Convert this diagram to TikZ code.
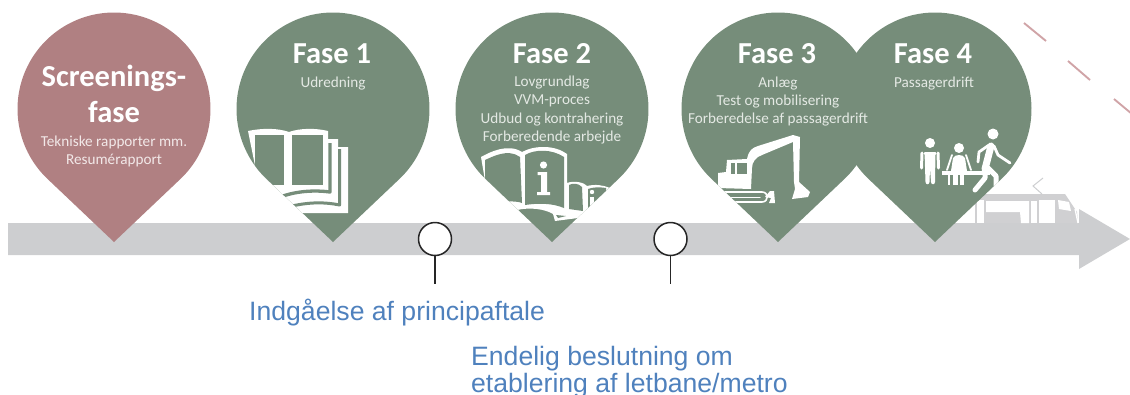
\documentclass[tikz,border=0pt]{standalone}
\usepackage{fontspec}
\setmainfont{Carlito}
\newfontfamily\bluefont{Liberation Sans}
\definecolor{pingreen}{RGB}{118,141,122}
\definecolor{pinrose}{RGB}{176,128,130}
\definecolor{barcol}{RGB}{205,206,208}
\definecolor{bluetxt}{RGB}{79,129,189}
\definecolor{dashcol}{RGB}{208,164,167}
\definecolor{subgreen}{RGB}{228,233,228}
\definecolor{subrose}{RGB}{242,232,232}
\newcommand\pinpath[1]{(#1,242) -- plot[domain=46.5:-226.5,samples=140] ({#1+96.5*cos(\x)},{109+96.5*sin(\x)}) -- cycle}
\tikzset{
 pinhead/.style={font=\fontsize{30.5}{30.5}\bfseries\selectfont,text=white,anchor=base,inner sep=0pt},
 subgr/.style={font=\fontsize{15.2}{16}\selectfont,text=subgreen,anchor=base,inner sep=0pt},
 subro/.style={font=\fontsize{15.2}{16}\selectfont,text=subrose,anchor=base,inner sep=0pt},
 milestone/.style={circle,draw=black!85,fill=white,line width=1.5pt,minimum size=33pt,inner sep=0pt},
 stem/.style={draw=black!85,line width=1.6pt},
 bluelabel/.style={font=\bluefont\fontsize{26.6}{26.6}\selectfont,text=bluetxt,anchor=base west,inner sep=0pt},
 wl/.style={draw=white,line cap=round,line join=round},
 gl/.style={draw=pingreen,line join=round},
}
\begin{document}
\begin{tikzpicture}[x=1pt,y=-1pt]
\useasboundingbox (0,0) rectangle (1130,394);
\clip (0,0) rectangle (1130,394);
% arrow
\fill[barcol] (8,223) -- (1079,223) -- (1079,209) -- (1130,239) -- (1079,269) -- (1079,255) -- (8,255) -- cycle;
% tram
\fill[barcol!95!white] (972,194) -- (1065,194) -- (1077,212) -- (1078,223) -- (972,223) -- cycle;
\fill[white] (966,201) rectangle (975,223);
\fill[white] (977,200) rectangle (984,223);
\fill[white] (986,201) -- (1029,201) -- (1029,223) -- (1021,223) -- (1020,212) -- (986,212) -- cycle;
\fill[white] (1031,201) rectangle (1037,223);
\fill[white] (1039,200) rectangle (1055,223);
\fill[white] (1058,200) -- (1069,202) -- (1071,211) -- (1059,209) -- cycle;
\draw[white,line width=1.3pt] (1075,209) -- (1078,223);
\draw[barcol,line width=1pt] (1043,178) -- (1033,186) -- (1042,194);
% dashes
\draw[dashcol,line width=1.9pt] (1024,23) -- (1046,41);
\draw[dashcol,line width=1.9pt] (1068,61) -- (1090,80);
\draw[dashcol,line width=1.9pt] (1114,99) -- (1132,114);
% pins
\fill[pinrose] \pinpath{114};
\fill[pingreen] \pinpath{333};
\fill[pingreen] \pinpath{552};
\fill[pingreen] \pinpath{778};
\fill[pingreen] \pinpath{935};
% book icon
\begin{scope}
\clip \pinpath{333};
\fill[white] (248,131) .. controls (262,128) and (278,128) .. (289,132) .. controls (300,128) and (316,128) .. (328,131) -- (328,139) -- (338,139) -- (338,147) -- (348,147) -- (348,213) -- (300,213) -- (260,190) -- cycle;
\fill[pingreen] (255,135) -- (284,135) -- (284,185) -- (255,185) -- cycle;
\fill[pingreen] (292,135) -- (323,135) -- (323,185) -- (292,185) -- cycle;
\draw[gl,line width=3.3pt] (330,143) -- (330,192) .. controls (315,190) and (298,191) .. (283,196);
\draw[gl,line width=3pt] (339.6,149) -- (339.6,205) .. controls (325,202) and (310,202) .. (292,206);
\end{scope}
% info book icon
\begin{scope}
\clip \pinpath{552};
\fill[white] (481,157) .. controls (490,152) and (508,143) .. (522,152) .. controls (535,145) and (555,145) .. (567,154) -- (567,183) .. controls (575,180) and (585,183) .. (587,186) .. controls (595,184) and (603,185) .. (610,188) -- (590,215) -- (578,218) -- (555,221) -- (553,214) .. controls (545,209) and (530,207) .. (517,210) -- (490,210) -- cycle;
\fill[pingreen] (485,160) .. controls (492,157) and (508,148) .. (520,157) -- (522,203) .. controls (515,200) and (500,202) .. (485,203) -- cycle;
\fill[pingreen] (525,155) .. controls (535,149) and (552,149) .. (564,157) -- (564,208) .. controls (552,203) and (538,203) .. (525,205) -- cycle;
\fill[white] (543.5,165) circle[radius=3.6];
\fill[white] (537.5,172) -- (547,172) -- (547,192) -- (550,192) -- (550,195) -- (537,195) -- (537,192) -- (541,192) -- (541,175) -- (537.5,175) -- cycle;
\fill[pingreen] (569,185) .. controls (573,183) and (578,183) .. (582,187) -- (583,211) -- (569,209) -- cycle;
\fill[pingreen] (588,189) .. controls (593,187) and (600,187) .. (606,188) -- (606,212) -- (588,213) -- cycle;
\fill[white] (592,192) circle[radius=2.2];
\fill[white] (590,197) -- (594,197) -- (594,210) -- (590,210) -- cycle;
\fill[pingreen] (556,215) -- (566,216) -- (558,218) -- cycle;
\end{scope}
% excavator icon
\begin{scope}
\clip \pinpath{778};
\fill[white] (727,160) -- (747,159) .. controls (749,150) and (752,148) .. (758,146) -- (793,135) -- (800,137) -- (799,182) -- (810,192) -- (808,197) -- (792,199) -- (795,189) -- (794,182) -- (793,142) -- (762,155) .. controls (756,157) and (752,162) .. (752,168) -- (751,189) -- (718,188) -- (718,173) -- (726,172) -- cycle;
\fill[pingreen] (731,163) rectangle (735,174);
\fill[pingreen] (737,163) rectangle (747,174);
\draw[wl,line width=1.6pt] (723,192) -- (762,192) .. controls (769,192) and (769,202) .. (762,202) -- (733,202);
\draw[wl,line width=1pt] (724,197) -- (760,197);
\fill[white] (770,191) -- (774,191) -- (775,203) -- (769,203) -- (771,198) -- (765,197) -- cycle;
\end{scope}
% people icon
\begin{scope}
\clip \pinpath{935};
\fill[white] (930,143) circle[radius=5];
\draw[wl,line width=3pt] (925,153) -- (935,153);
\draw[wl,line width=3pt] (922,153) -- (921.5,168);
\draw[wl,line width=3pt] (938,153) -- (938.5,168);
\fill[white] (924.5,152) -- (935.5,152) -- (935,182) .. controls (935,185) and (931,185) .. (931,182) -- (930,168) -- (929.5,182) .. controls (929,185) and (926,185) .. (925.5,182) -- cycle;
\fill[white] (959,148) circle[radius=5];
\fill[white] (953,158) .. controls (955,154) and (963,154) .. (965,158) -- (967,171) -- (951,171) -- cycle;
\draw[wl,line width=1.8pt] (952,155) -- (947,170);
\draw[wl,line width=1.8pt] (966,155) -- (971,170);
\fill[white] (942,170.5) rectangle (990,175);
\fill[white] (947.5,175) rectangle (950,185);
\fill[white] (953,175) rectangle (957.5,185);
\fill[white] (959.5,175) rectangle (964,185);
\fill[white] (993,134) circle[radius=5.5];
\draw[wl,line width=7pt] (991,146) -- (985,169);
\draw[wl,line width=2.8pt] (989,145) -- (979,152) -- (978,162);
\draw[wl,line width=2.8pt] (994,146) -- (998,155) -- (1010,163);
\draw[wl,line width=5pt] (985,168) -- (985,178) -- (975,190);
\draw[wl,line width=5pt] (988,168) -- (996,176) -- (996,190);
\end{scope}
% texts
\node[pinhead] (screenA) at (114,86) {Screenings-};
\node[pinhead] (screenB) at (114,122.5) {fase};
\node[subro] (screenC) at (114,146.5) {Tekniske rapporter mm.};
\node[subro] (screenD) at (114,164) {Resumérapport};
\node[pinhead] (f1) at (332,63) {Fase 1};
\node[subgr] (f1a) at (333,87) {Udredning};
\node[pinhead] (f2) at (552,63) {Fase 2};
\node[subgr] (f2a) at (552,86.7) {Lovgrundlag};
\node[subgr] (f2b) at (552,104.7) {VVM-proces};
\node[subgr] (f2c) at (552,123) {Udbud og kontrahering};
\node[subgr] (f2d) at (552,141.3) {Forberedende arbejde};
\node[pinhead] (f3) at (777,63) {Fase 3};
\node[subgr] (f3a) at (778,87) {Anlæg};
\node[subgr] (f3b) at (778,105) {Test og mobilisering};
\node[subgr] (f3c) at (778,123) {Forberedelse af passagerdrift};
\node[pinhead] (f4) at (933,63) {Fase 4};
\node[subgr] (f4a) at (934,87) {Passagerdrift};
% milestones
\node[milestone] (m1) at (435,239) {};
\coordinate (m1e) at (435,284);
\draw[stem] (m1) -- (m1e);
\node[milestone] (m2) at (670.5,239) {};
\coordinate (m2e) at (670.5,284);
\draw[stem] (m2) -- (m2e);
\node[bluelabel] (l1) at (249,320) {Indgåelse af principaftale};
\node[bluelabel] (l2) at (471,365) {Endelig beslutning om};
\node[bluelabel] (l3) at (471,392) {etablering af letbane/metro};
\end{tikzpicture}
\end{document}
